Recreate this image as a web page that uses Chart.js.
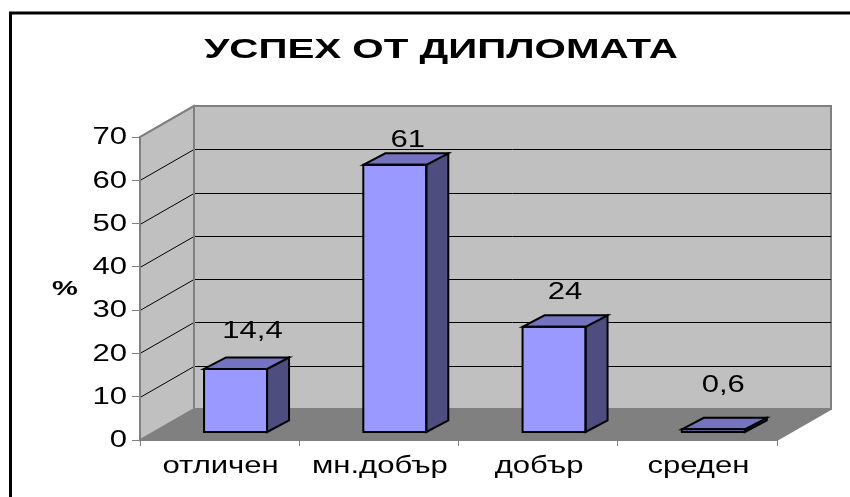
<!DOCTYPE html>
<html><head><meta charset="utf-8">
<style>html,body{margin:0;padding:0;background:#fff;overflow:hidden}#w{position:relative;width:850px;height:497px}canvas{display:block}</style>
<script src="https://cdn.jsdelivr.net/npm/chart.js@4"></script>
</head><body><div id="w"><canvas id="c" width="850" height="497"></canvas></div>
<script>
const categories = ["отличен","мн.добър","добър","среден"];
const values = [14.4,61,24,0.6];
const valueLabels = ["14,4","61","24","0,6"];
const yTicks = [0,10,20,30,40,50,60,70];
const titleText = "УСПЕХ ОТ ДИПЛОМАТА";
const axisTitle = "%";

const FONT = '"Liberation Sans", Arial, sans-serif';
const wall = {dx:54, dy:-31};
const bar3d = {dx:22, dy:-11.5};
const labelOffsets = [[17,-37],[13,-24],[11,-34],[10,-44]];

function wideText(c,text,x,y,font,sx,align){
  c.save();
  c.font=font; c.textAlign=align||'center'; c.textBaseline='middle'; c.fillStyle='#000';
  c.translate(x,y); c.scale(sx,1); c.fillText(text,0,0);
  c.restore();
}

const scene = {
  id:'scene',
  beforeDraw(ch){
    const c=ch.ctx, x=ch.scales.x, y=ch.scales.y;
    const L=x.left,R=x.right,B=y.bottom,T=y.top,d=wall;
    c.save();
    c.strokeStyle='#000'; c.lineWidth=3; c.strokeRect(10.5,13,900,600);
    const poly=(pts,fill,stroke,w)=>{c.beginPath();pts.forEach((p,i)=>i?c.lineTo(p[0],p[1]):c.moveTo(p[0],p[1]));c.closePath();
      if(fill){c.fillStyle=fill;c.fill();} if(stroke){c.strokeStyle=stroke;c.lineWidth=w||1;c.stroke();}};
    poly([[L+d.dx,T+d.dy],[R+d.dx,T+d.dy],[R+d.dx,B+d.dy],[L+d.dx,B+d.dy]],'#c0c0c0','#808080',2);
    poly([[L,T],[L+d.dx,T+d.dy],[L+d.dx,B+d.dy],[L,B]],'#c0c0c0','#808080',2);
    poly([[L,B],[L+d.dx,B+d.dy],[R+d.dx,B+d.dy],[R,B]],'#808080');
    c.strokeStyle='#000'; c.lineWidth=1;
    yTicks.filter(v=>v>0&&v<70).forEach(v=>{
      const py=Math.round(y.getPixelForValue(v))+0.5;
      c.beginPath();c.moveTo(L,py);c.lineTo(L+d.dx,py+d.dy);c.lineTo(R+d.dx,py+d.dy);c.stroke();
    });
    c.strokeStyle='#808080'; c.lineWidth=2;
    c.beginPath();c.moveTo(L,T);c.lineTo(L+d.dx,T+d.dy);c.stroke();
    c.beginPath();c.moveTo(R,B);c.lineTo(R+d.dx,B+d.dy);c.stroke();
    c.beginPath();c.moveTo(L+d.dx,T+d.dy);c.lineTo(L+d.dx,B+d.dy);c.stroke();
    c.restore();
  },
  afterDatasetsDraw(ch){
    const c=ch.ctx, m=ch.getDatasetMeta(0), b=bar3d, x=ch.scales.x, y=ch.scales.y;
    c.save(); c.lineJoin='miter'; c.strokeStyle='#000'; c.lineWidth=2;
    m.data.forEach((e)=>{
      const l=e.x-e.width/2,r=e.x+e.width/2,t=e.y,bo=e.base;
      const poly=(pts,fill)=>{c.beginPath();pts.forEach((p,j)=>j?c.lineTo(p[0],p[1]):c.moveTo(p[0],p[1]));c.closePath();if(fill){c.fillStyle=fill;c.fill();}c.stroke();};
      poly([[r,t],[r+b.dx,t+b.dy],[r+b.dx,bo+b.dy],[r,bo]],'#4d4d80');
      poly([[l,t],[l+b.dx,t+b.dy],[r+b.dx,t+b.dy],[r,t]],'#7373bf');
      poly([[l,t],[r,t],[r,bo],[l,bo]],null);
    });
    c.restore();
    const tf='23px '+FONT, s=1.35;
    m.data.forEach((e,i)=>wideText(c,valueLabels[i],e.x+labelOffsets[i][0],e.y+labelOffsets[i][1],tf,s));
    categories.forEach((t,i)=>wideText(c,t,x.getPixelForTick(i)+1,467,tf,s));
    yTicks.forEach(v=>wideText(c,String(v),127,y.getPixelForValue(v)+1,tf,s,'right'));
    wideText(c,axisTitle,65,289,'bold 21px '+FONT,1.38);
    wideText(c,titleText,441,50,'bold 28px '+FONT,1.44);
  }
};

new Chart(document.getElementById('c'),{
  type:'bar',
  data:{labels:categories,datasets:[{
    data:values.map((v,i)=>({x:i,y:v})),
    xAxisID:'x2',yAxisID:'y2',
    backgroundColor:'#9999ff',borderWidth:0,barThickness:63
  }]},
  options:{
    responsive:false,animation:false,
    layout:{padding:{top:137,left:0,right:73,bottom:0}},
    plugins:{legend:{display:false},title:{display:false},tooltip:{enabled:false}},
    scales:{
      x:{type:'category',labels:categories,position:'bottom',offset:true,
        afterFit(a){a.height=57;},
        grid:{drawOnChartArea:false,color:'#808080',tickLength:6,lineWidth:1,offset:true},
        border:{color:'#808080',width:2},
        ticks:{display:false}},
      y:{type:'linear',min:0,max:70,position:'left',
        afterFit(a){a.width=140;},
        afterBuildTicks(a){a.ticks=yTicks.map(v=>({value:v}));},
        grid:{drawOnChartArea:false,color:'#808080',tickLength:8,lineWidth:1},
        border:{color:'#808080',width:2},
        ticks:{display:false}},
      x2:{type:'linear',display:false,offset:false,min:-0.6,max:3.4,grid:{offset:false}},
      y2:{type:'linear',display:false,min:-1.83,max:67.35}
    }
  },
  plugins:[scene]
});
</script></body></html>
